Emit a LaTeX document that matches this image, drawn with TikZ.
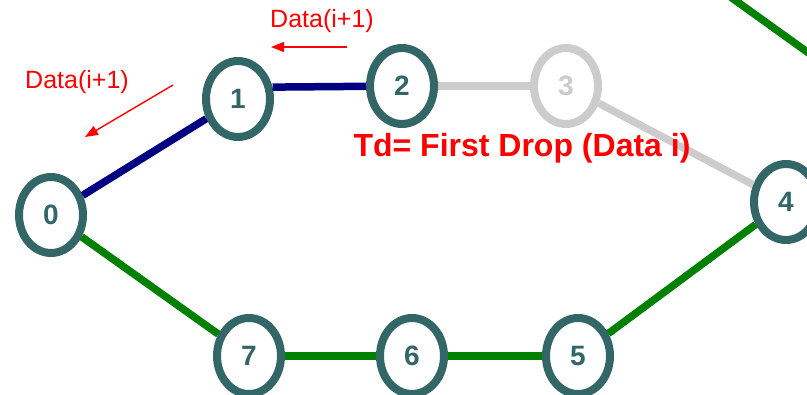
\documentclass[tikz,border=0pt]{standalone}
\usepackage{fontspec}
\setmainfont{Liberation Sans}
\usetikzlibrary{shapes.geometric,arrows.meta}
\definecolor{ringc}{HTML}{336666}
\definecolor{greyc}{HTML}{CCCCCC}
\definecolor{navyc}{HTML}{000080}
\definecolor{greenc}{HTML}{008000}
\definecolor{redc}{HTML}{FF0000}
\tikzset{
  ringnode/.style={ellipse, draw=ringc, line width=8pt, fill=white, minimum width=64pt, minimum height=76pt, inner sep=0pt, text=ringc, font=\fontsize{28}{30}\selectfont\bfseries},
  greynode/.style={ringnode, draw=greyc, text=greyc},
  navyedge/.style={draw=navyc, line width=7.5pt},
  greyedge/.style={draw=greyc, line width=7.5pt},
  greenedge/.style={draw=greenc, line width=7.5pt},
  redlabel/.style={text=redc, font=\fontsize{25}{27}\selectfont, inner sep=0pt},
  redarrow/.style={draw=redc, line width=1.4pt, -{Triangle[length=13pt,width=10pt]}},
}
\begin{document}
\begin{tikzpicture}[x=1pt,y=-1pt]
\useasboundingbox (0,0) rectangle (807,395);
\clip (0,0) rectangle (807,395);
% nodes
\node[ringnode] (n0) at (51,215) {0};
\node[ringnode] (n1) at (238,99) {1};
\node[ringnode] (n2) at (402,86) {2};
\node[greynode] (n3) at (566,86) {3};
\node[ringnode] (n4) at (786,202) {4};
\node[ringnode] (n5) at (578,356) {5};
\node[ringnode] (n6) at (412,356) {6};
\node[ringnode] (n7) at (249,356) {7};
% edges
\draw[navyedge] (n0) -- (n1);
\draw[navyedge] (n1.19) -- (n2);
\draw[greyedge] (n2) -- (n3);
\draw[greyedge] (n3) -- (n4);
\draw[greenedge] (n4) -- (n5);
\draw[greenedge] (n5) -- (n6);
\draw[greenedge] (n6) -- (n7);
\draw[greenedge] (n7) -- (n0);
% top-right green line
\coordinate (g1) at (725,-7);
\coordinate (g2) at (817,59);
\draw[greenedge] (g1) -- (g2);
% labels
\node[redlabel] (l1) at (77,82) {Data(i+1)};
\node[redlabel] (l2) at (322,21) {Data(i+1)};
\coordinate (a1s) at (173,85);
\coordinate (a1e) at (85,137);
\draw[redarrow] (a1s) -- (a1e);
\coordinate (a2s) at (347,47);
\coordinate (a2e) at (271,47);
\draw[redarrow] (a2s) -- (a2e);
\node[text=redc, font=\fontsize{32}{34}\selectfont\bfseries, inner sep=0pt] (td) at (522,148) {Td= First Drop (Data i)};
\end{tikzpicture}
\end{document}
